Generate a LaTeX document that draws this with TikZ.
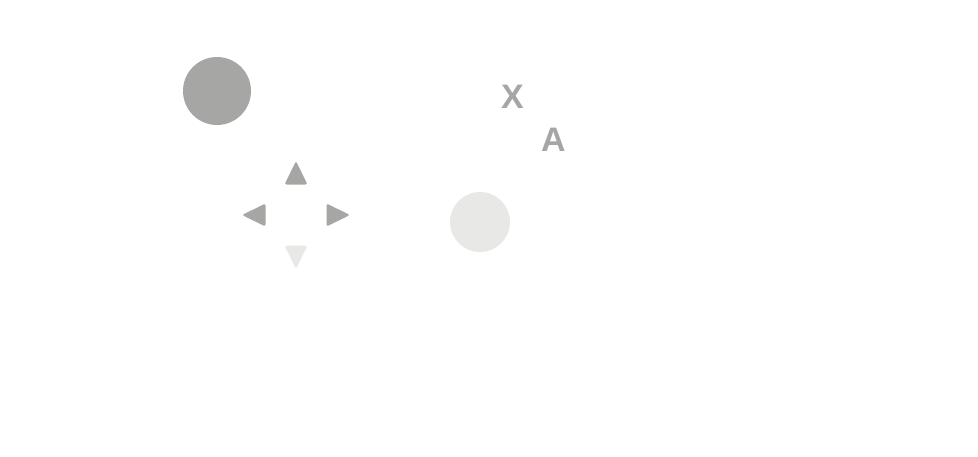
\documentclass[tikz,border=0pt]{standalone}
\usepackage{fontspec}
\setmainfont{Liberation Sans}
\definecolor{btn}{HTML}{A6A6A5}
\definecolor{btnlight}{HTML}{E8E8E7}
\begin{document}
\begin{tikzpicture}[x=1pt,y=-1pt,
  disc/.style={circle, inner sep=0pt, fill=#1},
  arrowtri/.style={fill=#1, rounded corners=2.2pt},
  letter/.style={text=btn, font=\fontsize{34}{34}\selectfont\bfseries, inner sep=0pt}]
\useasboundingbox (0,0) rectangle (978,456);
% left stick
\node[disc=btn, minimum size=68pt] (lstick) at (217,91) {};
% d-pad
\fill[arrowtri=btn] (296,161) -- (307.5,184.5) -- (284.5,184.5) -- cycle;
\fill[arrowtri=btn] (242,215) -- (265.5,203.5) -- (265.5,226.5) -- cycle;
\fill[arrowtri=btn] (350,215) -- (326.5,203.5) -- (326.5,226.5) -- cycle;
\fill[arrowtri=btnlight] (296,269) -- (307.5,245.5) -- (284.5,245.5) -- cycle;
% right stick
\node[disc=btnlight, minimum size=60pt] (rstick) at (480,222) {};
% face buttons
\node[letter] (xbtn) at (512.5,96.5) {X};
\node[letter] (abtn) at (553.5,140) {A};
\end{tikzpicture}
\end{document}
